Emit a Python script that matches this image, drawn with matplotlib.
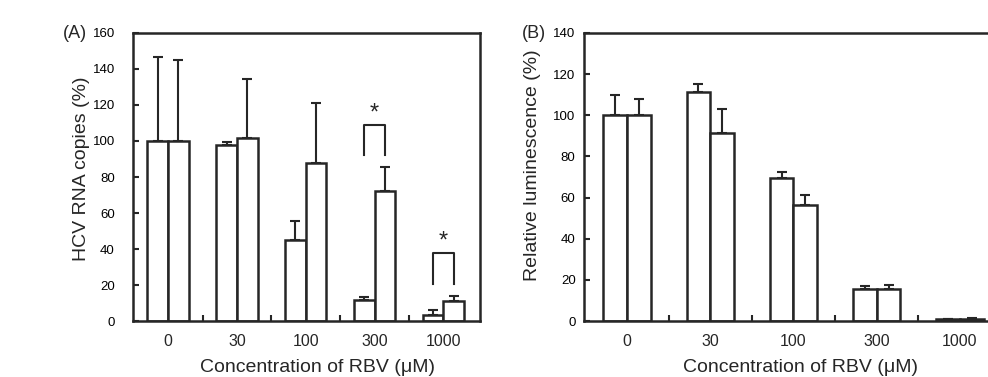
import numpy as np
import matplotlib.pyplot as plt

plt.rcParams['font.family'] = ['Liberation Sans', 'DejaVu Sans']

conc = ['0', '30', '100', '300', '1000']

# panel A: HCV RNA copies (%)
hcv_a = [100, 97.8, 44.9, 11.9, 3.5]
hcv_a_err = [46.6, 1.5, 10.8, 1.5, 2.5]
hcv_b = [100, 101.5, 87.6, 72.2, 11.0]
hcv_b_err = [45.2, 32.9, 33.4, 13.5, 2.9]

# significance marks in panel A: group index, bracket top, leg bottom, star
sig_group = [3, 4]
sig_top = [109, 38]
sig_leg = [92, 20.5]
sig_star = [115, 44]

# panel B: relative luminescence (%)
lum_a = [100, 111.3, 69.5, 15.7, 0.8]
lum_a_err = [10, 3.7, 2.9, 1.3, 0.3]
lum_b = [100, 91.6, 56.6, 15.7, 1.2]
lum_b_err = [8, 11.4, 4.8, 1.8, 0.3]

ink = '#262626'

fig = plt.figure(figsize=(9.88, 3.77), dpi=100)
axA = fig.add_axes([0.1346, 0.1485, 0.3512, 0.764])
axB = fig.add_axes([0.591, 0.1485, 0.431, 0.764])


def draw_pair(ax, v1, e1, v2, e2, w):
    x = np.arange(len(v1))
    for xs, v, e in [(x - w / 2, v1, e1), (x + w / 2, v2, e2)]:
        ax.bar(xs, v, width=w, color='white', edgecolor=ink, linewidth=1.8, zorder=2)
        ax.errorbar(xs, v, yerr=[np.zeros(len(v)), e], fmt='none', ecolor=ink,
                    elinewidth=1.5, capsize=3.5, capthick=1.5, zorder=1)
    ax.set_xticks(x)
    ax.set_xticklabels(conc)
    ax.set_xticks(x[:-1] + 0.5, minor=True)
    ax.tick_params(axis='x', which='major', length=0, pad=9, labelsize=11.5, colors=ink)
    ax.tick_params(axis='x', which='minor', direction='in', length=4, width=1.5, color=ink)
    ax.tick_params(axis='y', direction='in', length=4, width=1.5, color=ink, labelsize=9.5)
    for s in ax.spines.values():
        s.set_linewidth(1.8)
        s.set_color(ink)
    ax.set_xlabel('Concentration of RBV (\u03bcM)', fontsize=14, color=ink)


draw_pair(axA, hcv_a, hcv_a_err, hcv_b, hcv_b_err, 0.30)
axA.set_xlim(-0.51, 4.53)
axA.set_ylim(0, 160)
axA.set_yticks(np.arange(0, 161, 20))
axA.tick_params(axis='y', pad=13)
axA.set_ylabel('HCV RNA copies (%)', fontsize=14, color=ink)
axA.yaxis.set_label_coords(-0.125, 0.53)
axA.xaxis.set_label_coords(0.533, -0.133)
for g, top, leg, star in zip(sig_group, sig_top, sig_leg, sig_star):
    axA.plot([g - 0.15, g - 0.15, g + 0.15, g + 0.15], [leg, top, top, leg],
             color=ink, linewidth=1.5)
    axA.text(g, star, '*', ha='center', va='center', fontsize=17, color=ink)

draw_pair(axB, lum_a, lum_a_err, lum_b, lum_b_err, 0.286)
axB.set_xlim(-0.52, 4.6)
axB.set_ylim(0, 140)
axB.set_yticks(np.arange(0, 141, 20))
axB.tick_params(axis='y', pad=6)
axB.set_ylabel('Relative luminescence (%)', fontsize=14, color=ink)
axB.yaxis.set_label_coords(-0.10, 0.54)
axB.xaxis.set_label_coords(0.509, -0.133)

fig.text(63 / 988, 1 - 33 / 377, '(A)', ha='left', va='center', fontsize=13, color=ink)
fig.text(522 / 988, 1 - 33 / 377, '(B)', ha='left', va='center', fontsize=13, color=ink)

fig.savefig('out.png', dpi=100)
